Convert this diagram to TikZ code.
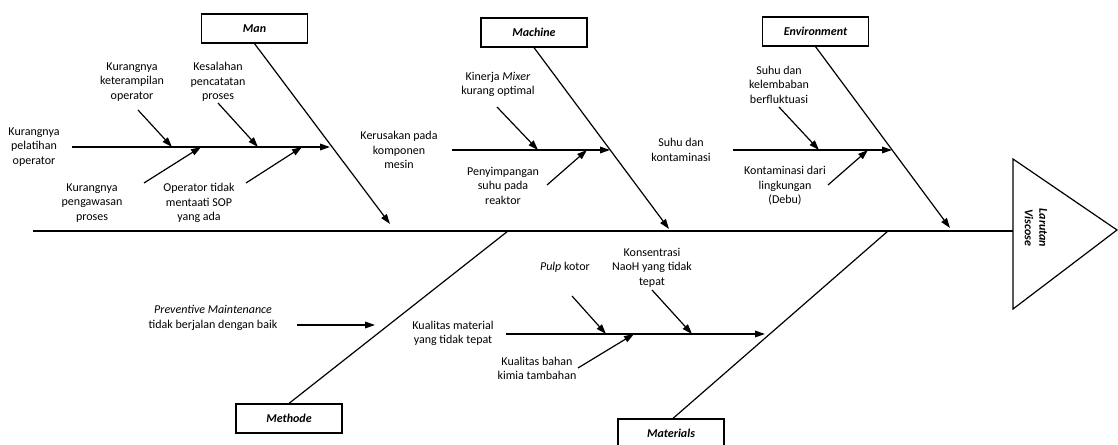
\documentclass[tikz,border=0pt]{standalone}
\usepackage{fontspec}
\setmainfont{Carlito}
\usetikzlibrary{arrows.meta}
\tikzset{
  bone/.style={line width=0.9pt},
  arr/.style={line width=0.9pt,-{Triangle[length=7.5pt,width=5pt]}},
  catbox/.style={draw,line width=0.9pt,minimum width=79.5pt,minimum height=21.75pt,inner sep=0pt,font=\fontsize{9}{10.9}\selectfont\bfseries\itshape},
  lbl/.style={align=center,inner sep=0pt,font=\fontsize{9}{10.9}\selectfont},
}
\begin{document}
\begin{tikzpicture}[x=0.75pt,y=-0.75pt]
\useasboundingbox (0,0) rectangle (1118,445);
\clip (0,0) rectangle (1118,445);
% head triangle
\coordinate (tA) at (1013,159);
\coordinate (tB) at (1117,230);
\coordinate (tC) at (1013,309);
\draw[bone,line join=miter] (tA) -- (tB) -- (tC) -- cycle;
\node[lbl,rotate=-90,font=\fontsize{9}{10.9}\selectfont\bfseries\itshape] (effect) at (1036,228) {Larutan\\Viscose};
% spine
\coordinate (tail) at (33,231);
\coordinate (head) at (1013,231);
\draw[bone] (tail) -- (head);
% category boxes
\node[catbox] (man) at (254.5,28.5) {Man};
\node[catbox] (machine) at (534,32.5) {Machine};
\node[catbox] (env) at (815.5,31.5) {Environment};
\node[catbox] (methode) at (289,418.5) {Methode};
\node[catbox] (materials) at (671,433.5) {Materials};
% main bones
\coordinate (manTip) at (390,224);
\coordinate (macTip) at (669,229);
\coordinate (envTip) at (950,228);
\coordinate (metEnd) at (508,231);
\coordinate (matEnd) at (888,231);
\draw[arr] (man.south) -- (manTip);
\draw[arr] (machine.south) -- (macTip);
\draw[arr] (env.south) -- (envTip);
\draw[bone] (methode.north) -- (metEnd);
\draw[bone] ([xshift=1.5pt]materials.north) -- (matEnd);
% sub-bones
\coordinate (manS) at (72,147);   \coordinate (manE) at (330,147);
\coordinate (macS) at (452,150);  \coordinate (macE) at (610,150);
\coordinate (envS) at (733,150);  \coordinate (envE) at (892,150);
\coordinate (matS) at (506,334);  \coordinate (matE) at (765,334);
\coordinate (metS) at (297,325);  \coordinate (metE) at (375,325);
\draw[arr] (manS) -- (manE);
\draw[arr] (macS) -- (macE);
\draw[arr] (envS) -- (envE);
\draw[arr] (matS) -- (matE);
\draw[arr] (metS) -- (metE);
% small arrows
\coordinate (a1s) at (138,110); \coordinate (a1e) at (172,147);
\coordinate (a2s) at (218,103); \coordinate (a2e) at (258,147);
\coordinate (a3s) at (144,183); \coordinate (a3e) at (201,147);
\coordinate (a4s) at (246,183); \coordinate (a4e) at (302,147);
\coordinate (b1s) at (497,107); \coordinate (b1e) at (538,150);
\coordinate (b2s) at (547,185); \coordinate (b2e) at (587,150);
\coordinate (c1s) at (779,107); \coordinate (c1e) at (819,150);
\coordinate (c2s) at (828,185); \coordinate (c2e) at (868,150);
\coordinate (d1s) at (572,296); \coordinate (d1e) at (606,334);
\coordinate (d2s) at (652,290); \coordinate (d2e) at (692,334);
\coordinate (d3s) at (578,368); \coordinate (d3e) at (634,334);
\foreach \p in {a1,a2,a3,a4,b1,b2,c1,c2,d1,d2,d3}{
  \draw[arr] (\p s) -- (\p e);
}
% labels
\node[lbl] (t1) at (34,147) {Kurangnya\\pelatihan\\operator};
\node[lbl] (t2) at (132,82) {Kurangnya\\keterampilan\\operator};
\node[lbl] (t3) at (218,82) {Kesalahan\\pencatatan\\proses};
\node[lbl] (t4) at (92,203) {Kurangnya\\pengawasan\\proses};
\node[lbl] (t5) at (199,203) {Operator tidak\\mentaati SOP\\yang ada};
\node[lbl] (t6) at (399,150) {Kerusakan pada\\komponen\\mesin};
\node[lbl] (t7) at (498,84.5) {Kinerja \textit{Mixer}\\kurang optimal};
\node[lbl] (t8) at (503,185.5) {Penyimpangan\\suhu pada\\reaktor};
\node[lbl] (t9) at (681,150) {Suhu dan\\kontaminasi};
\node[lbl] (t10) at (779,84.5) {Suhu dan\\kelembaban\\berfluktuasi};
\node[lbl] (t11) at (785,186) {Kontaminasi dari\\lingkungan\\(Debu)};
\node[lbl] (t12) at (213,318) {\textit{Preventive Maintenance}\\tidak berjalan dengan baik};
\node[lbl] (t13) at (453,333.5) {Kualitas material\\yang tidak tepat};
\node[lbl] (t14) at (565,267) {\textit{Pulp} kotor};
\node[lbl] (t15) at (652,267.5) {Konsentrasi\\NaoH yang tidak\\tepat};
\node[lbl] (t16) at (537,368.5) {Kualitas bahan\\kimia tambahan};
\end{tikzpicture}
\end{document}
